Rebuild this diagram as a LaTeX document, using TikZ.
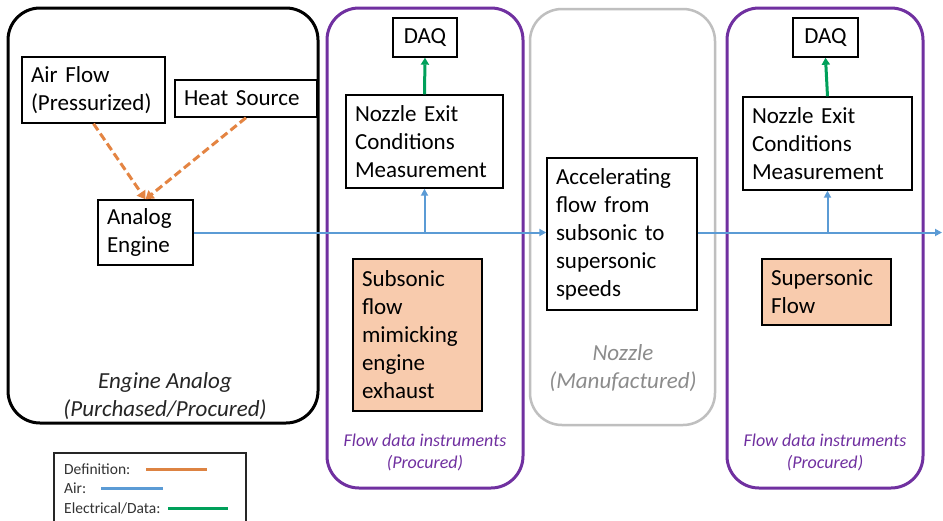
\documentclass[tikz,border=0pt]{standalone}
\usepackage{fontspec}
\setmainfont{Carlito}
\usetikzlibrary{arrows.meta}
\definecolor{airblue}{RGB}{91,155,213}
\definecolor{defor}{RGB}{228,132,66}
\definecolor{datagreen}{RGB}{0,160,90}
\definecolor{purp}{RGB}{112,48,160}
\definecolor{grayb}{RGB}{191,191,191}
\definecolor{subfill}{RGB}{248,203,173}
\definecolor{nozgray}{RGB}{140,140,140}
\tikzset{
  blk/.style={draw=black, line width=1.4pt, align=left, inner xsep=9pt, inner ysep=0pt,
    font=\fontsize{23}{28}\selectfont, fill=white},
  air/.style={draw=airblue, line width=2pt, -{Triangle[length=7pt,width=7pt]}},
  defn/.style={draw=defor, line width=3pt, dash pattern=on 8pt off 4pt, -{Triangle[length=8pt,width=10pt]}},
  datal/.style={draw=datagreen, line width=3pt, -{Triangle[length=7pt,width=8pt]}},
  grp/.style={rounded corners=32pt, line width=3pt},
  biglbl/.style={font=\fontsize{23}{28}\selectfont\itshape, align=center},
  smlbl/.style={font=\fontsize{18}{22}\selectfont\itshape, align=center, text=purp},
  leglbl/.style={font=\fontsize{15.5}{19}\selectfont, anchor=west, inner sep=0pt, text=black!80},
  legline/.style={line width=3pt},
}
\begin{document}
\begin{tikzpicture}[x=1pt,y=-1pt]
\useasboundingbox (0,0) rectangle (943,520);
\fill[white] (0,0) rectangle (943,520);
% group frames
\draw[grp, draw=black] (8,8) rectangle (318,423);
\draw[grp, draw=purp] (327,8) rectangle (523,488);
\draw[grp, draw=grayb, line width=2.5pt] (530,9) rectangle (715,425);
\draw[grp, draw=purp] (727,8) rectangle (923,488);
% boxes
\node[blk, text width=125pt, minimum height=66pt] (af) at (93.5,90) {Air Flow\\(Pressurized)};
\node[blk, text width=124pt, minimum height=37pt] (hs) at (246,98.5) {Heat Source};
\node[blk, text width=77pt, minimum height=65pt] (ae) at (145.5,232.5) {Analog\\Engine};
\node[blk, align=center, text width=46pt, minimum height=39pt] (daq1) at (425,37.5) {DAQ};
\node[blk, text width=139pt, minimum height=93pt] (ne1) at (424.5,141.5) {Nozzle Exit\\Conditions\\Measurement};
\node[blk, fill=subfill, text width=111pt, minimum height=152pt] (sub) at (417.5,335) {Subsonic\\flow\\mimicking\\engine\\exhaust};
\node[blk, text width=132pt, minimum height=152pt] (acc) at (622,234) {Accelerating\\flow from\\subsonic to\\supersonic\\speeds};
\node[blk, align=center, text width=47pt, minimum height=39pt] (daq2) at (825.5,37.5) {DAQ};
\node[blk, text width=151pt, minimum height=93pt] (ne2) at (827.5,143.5) {Nozzle Exit\\Conditions\\Measurement};
\node[blk, fill=subfill, text width=111pt, minimum height=66pt] (sup) at (826.5,292) {Supersonic\\Flow};
% group labels
\node[biglbl, text=black!85] (englbl) at (165,396) {Engine Analog\\(Purchased/Procured)};
\node[biglbl, text=nozgray] (nozlbl) at (623,368) {Nozzle\\(Manufactured)};
\node[smlbl] (fl1) at (425,452) {Flow data instruments\\(Procured)};
\node[smlbl] (fl2) at (825,452) {Flow data instruments\\(Procured)};
% connectors
\coordinate (out) at (942,232.5);
\draw[air] (ae.east) -- (ae.east -| acc.west);
\draw[air] (acc.east |- ae.east) -- (out);
\draw[air] (ne1.south |- ae.east) -- (ne1.south);
\draw[air] (ne2.south |- ae.east) -- (ne2.south);
\draw[datal] (ne1.north) -- (daq1.south);
\draw[datal] (ne2.north) -- (daq2.south);
\draw[defn] (af.south) -- (ae.north);
\draw[defn] (hs.south) -- (ae.north);
% legend
\begin{scope}
\clip (0,0) rectangle (943,520);
\draw[line width=1.2pt, draw=black!85] (54,453) rectangle (246,530);
\end{scope}
\node[leglbl] (l1) at (64,469) {Definition:};
\node[leglbl] (l2) at (64,488) {Air:};
\node[leglbl] (l3) at (64,508) {Electrical/Data:};
\coordinate (l1a) at (146,469); \coordinate (l1b) at (207,469);
\coordinate (l2a) at (101,488); \coordinate (l2b) at (163,488);
\coordinate (l3a) at (168,508); \coordinate (l3b) at (228,508);
\draw[legline, draw=defor!80!brown] (l1a) -- (l1b);
\draw[legline, draw=airblue] (l2a) -- (l2b);
\draw[legline, draw=datagreen] (l3a) -- (l3b);
\end{tikzpicture}
\end{document}
